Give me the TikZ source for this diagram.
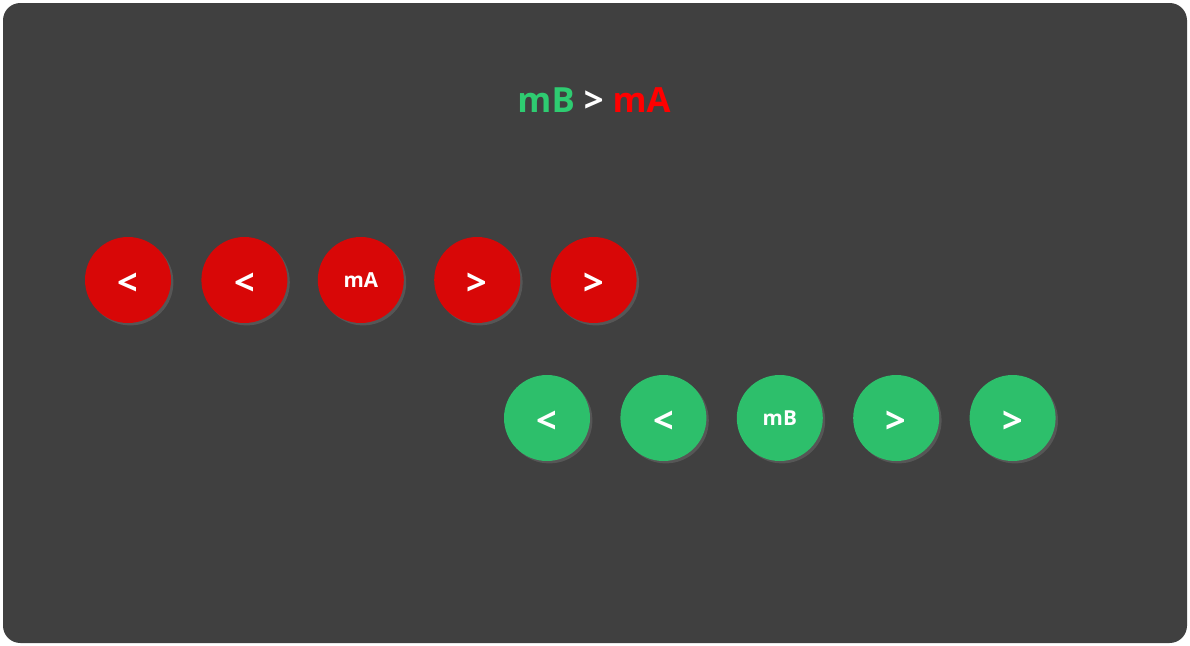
\documentclass[tikz,border=0pt]{standalone}
\usepackage{fontspec}
\setmainfont{Open Sans}
\usepackage{xcolor}
\usetikzlibrary{positioning,shadows}

\definecolor{panel}{HTML}{404040}
\definecolor{ballred}{HTML}{D80707}
\definecolor{ballgreen}{HTML}{2DBF6B}
\definecolor{titlegreen}{HTML}{2ECC71}
\definecolor{titlered}{HTML}{FF0000}

\newcommand{\arrowsym}[1]{\raisebox{-3.2pt}[\height][0pt]{#1}}

\begin{document}
\begin{tikzpicture}[
  x=0.75pt, y=-0.75pt,
  ball/.style={circle, minimum size=64.5pt, inner sep=0pt, text=white, font=\fontsize{27}{27}\selectfont\bfseries,
    drop shadow={opacity=0.35, shadow xshift=1.8pt, shadow yshift=-1.8pt}},
  redball/.style={ball, fill=ballred},
  greenball/.style={ball, fill=ballgreen},
  tag/.style={font=\fontsize{15.5}{15.5}\selectfont\bfseries},
  node distance=22.4pt
]

% page and panel
\fill[white] (0,0) rectangle (1190,646);
\useasboundingbox (0,0) rectangle (1190,646);
\fill[panel, rounded corners=13pt] (3,3) rectangle (1187,643);

% title
\node[font=\fontsize{26}{26}\selectfont\bfseries] (title) at (594,100)
  {\textcolor{titlegreen}{mB} \textcolor{white}{>} \textcolor{titlered}{mA}};

% row of A
\node[redball] (a1) at (128,280) {\arrowsym{<}};
\node[redball, right=of a1] (a2) {\arrowsym{<}};
\node[redball, tag, right=of a2] (a3) {mA};
\node[redball, right=of a3] (a4) {\arrowsym{>}};
\node[redball, right=of a4] (a5) {\arrowsym{>}};

% row of B
\node[greenball] (b1) at (547,418) {\arrowsym{<}};
\node[greenball, right=of b1] (b2) {\arrowsym{<}};
\node[greenball, tag, right=of b2] (b3) {mB};
\node[greenball, right=of b3] (b4) {\arrowsym{>}};
\node[greenball, right=of b4] (b5) {\arrowsym{>}};

\end{tikzpicture}
\end{document}
